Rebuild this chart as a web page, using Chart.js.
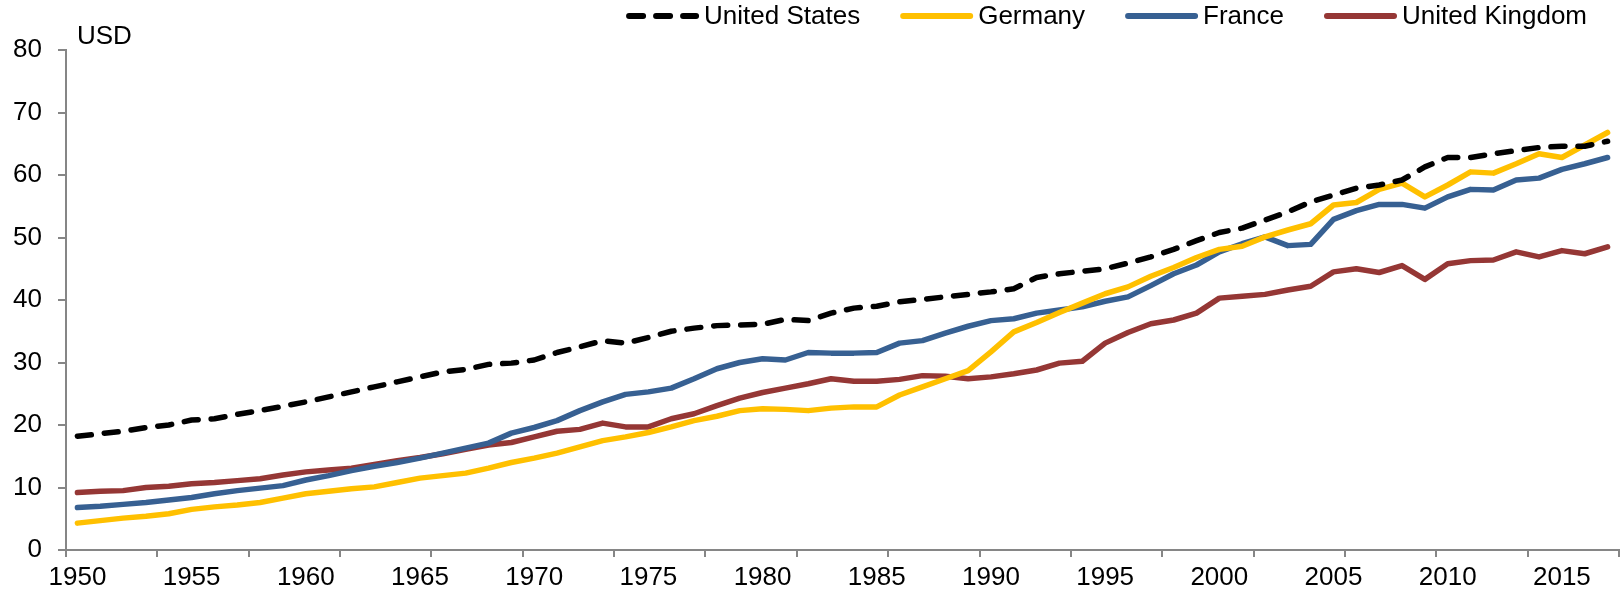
<!DOCTYPE html>
<html>
<head>
<meta charset="utf-8">
<title>Productivity</title>
<script src="https://cdn.jsdelivr.net/npm/chart.js@4.4.1/dist/chart.umd.min.js"></script>
<style>
  html, body { margin: 0; padding: 0; background: #fff; }
  #wrap { width: 1623px; height: 598px; position: relative; }
</style>
</head>
<body>
<div id="wrap"><canvas id="chart"></canvas></div>
<script>
// ------------------------------
// Data
// ------------------------------

const years = [
"1950","1951","1952","1953","1954","1955","1956","1957","1958","1959",
"1960","1961","1962","1963","1964","1965","1966","1967","1968","1969",
"1970","1971","1972","1973","1974","1975","1976","1977","1978","1979",
"1980","1981","1982","1983","1984","1985","1986","1987","1988","1989",
"1990","1991","1992","1993","1994","1995","1996","1997","1998","1999",
"2000","2001","2002","2003","2004","2005","2006","2007","2008","2009",
"2010","2011","2012","2013","2014","2015","2016","2017"
];

const unitedStates = [
18.2,18.6,19.0,19.6,20.0,20.8,21.0,21.7,22.3,23.0,
23.7,24.5,25.3,26.1,26.9,27.7,28.5,28.9,29.7,29.9,
30.4,31.6,32.5,33.5,33.1,34.0,35.0,35.5,35.9,36.0,
36.1,36.9,36.7,37.9,38.7,39.0,39.7,40.1,40.5,40.9,
41.3,41.8,43.6,44.2,44.6,45.0,45.9,46.9,48.1,49.5,
50.8,51.5,52.8,54.1,55.7,56.8,57.9,58.4,59.2,61.3,
62.8,62.8,63.4,63.9,64.4,64.6,64.6,65.4
];

const germany = [
4.3,4.7,5.1,5.4,5.8,6.5,6.9,7.2,7.6,8.3,
9.0,9.4,9.8,10.1,10.8,11.5,11.9,12.3,13.1,14.0,
14.7,15.5,16.5,17.5,18.1,18.8,19.7,20.7,21.4,22.3,
22.6,22.5,22.3,22.7,22.9,22.9,24.8,26.1,27.4,28.7,
31.7,34.9,36.4,38.0,39.5,41.0,42.1,43.8,45.2,46.8,
48.1,48.6,50.1,51.2,52.2,55.2,55.6,57.7,58.7,56.5,
58.4,60.5,60.3,61.8,63.4,62.8,64.8,66.8
];

const france = [
6.8,7.0,7.3,7.6,8.0,8.4,9.0,9.5,9.9,10.3,
11.2,11.9,12.7,13.4,14.0,14.7,15.5,16.3,17.1,18.7,
19.6,20.7,22.3,23.7,24.9,25.3,25.9,27.4,29.0,30.0,
30.6,30.4,31.6,31.5,31.5,31.6,33.1,33.5,34.7,35.8,
36.7,37.0,37.9,38.4,38.9,39.8,40.5,42.3,44.2,45.6,
47.7,49.0,50.1,48.7,48.9,52.9,54.3,55.3,55.3,54.7,
56.5,57.7,57.6,59.2,59.5,60.9,61.8,62.8
];

const unitedKingdom = [
9.2,9.4,9.5,10.0,10.2,10.6,10.8,11.1,11.4,12.0,
12.5,12.8,13.1,13.7,14.3,14.8,15.4,16.1,16.8,17.2,
18.1,19.0,19.3,20.3,19.7,19.7,21.0,21.8,23.1,24.3,
25.2,25.9,26.6,27.4,27.0,27.0,27.3,27.9,27.8,27.4,
27.7,28.2,28.8,29.9,30.2,33.1,34.8,36.2,36.8,37.9,
40.3,40.6,40.9,41.6,42.2,44.5,45.0,44.4,45.5,43.3,
45.8,46.3,46.4,47.7,46.9,47.9,47.4,48.5
];

const yTicks = [0, 10, 20, 30, 40, 50, 60, 70, 80];

// ------------------------------
// Styles
// ------------------------------

const FONT = "'Liberation Sans', Arial, sans-serif";
const FONT_SIZE = 26;
const AXIS_GREY = "#868686";

const series = [
  { label: "United States", data: unitedStates, color: "#000000", dash: [14, 13] },
  { label: "Germany", data: germany, color: "#FFC000", dash: [] },
  { label: "France", data: france, color: "#376092", dash: [] },
  { label: "United Kingdom", data: unitedKingdom, color: "#953735", dash: [] }
];

// legend + unit label drawn on top of the chart
const extrasPlugin = {
  id: "extras",
  afterDraw(chart) {
    const ctx = chart.ctx;
    const area = chart.chartArea;
    ctx.save();
    ctx.font = FONT_SIZE + "px " + FONT;
    ctx.fillStyle = "#000";
    ctx.textBaseline = "middle";

    // unit
    ctx.textAlign = "left";
    ctx.fillText("USD", area.left + 11, 37);

    // legend, right aligned
    const lineLen = 73, gapText = 5, gapItem = 40, y = 16;
    const items = series.map(s => ({ s: s, w: ctx.measureText(s.label).width }));
    let total = 0;
    items.forEach((it, i) => {
      total += lineLen + gapText + it.w + (i > 0 ? gapItem : 0);
    });
    let x = 1587 - total;
    items.forEach(it => {
      ctx.beginPath();
      ctx.strokeStyle = it.s.color;
      ctx.lineWidth = 6;
      ctx.lineCap = "round";
      ctx.setLineDash(it.s.dash);
      ctx.moveTo(x + 3, y);
      ctx.lineTo(x + lineLen - 3, y);
      ctx.stroke();
      ctx.setLineDash([]);
      ctx.fillText(it.s.label, x + lineLen + gapText, y + 1);
      x += lineLen + gapText + it.w + gapItem;
    });
    ctx.restore();
  }
};

// ------------------------------
// Line Chart
// ------------------------------

const lineChart = new Chart(

document.getElementById("chart"),

{

type: "line",

data: {

labels: years,

datasets: series.map(s => ({
  label: s.label,
  data: s.data,
  borderColor: s.color,
  backgroundColor: s.color,
  borderWidth: 5.5,
  borderDash: s.dash,
  borderCapStyle: "round",
  borderJoinStyle: "round",
  pointRadius: 0,
  tension: 0,
  fill: false
}))

},

options: {

responsive: true,
maintainAspectRatio: false,
animation: false,

layout: {
  padding: { top: 50, right: 4, bottom: 0, left: 0 }
},

plugins: {
  legend: { display: false },
  tooltip: { enabled: false }
},

scales: {

  x: {
    type: "category",
    offset: true,
    afterFit: scale => { scale.height = 48; },
    grid: {
      offset: true,
      drawOnChartArea: false,
      drawTicks: true,
      tickLength: 7,
      lineWidth: 2,
      color: c => (c.type === "scale" || c.index % 4 === 0) ? AXIS_GREY : "rgba(0,0,0,0)"
    },
    border: { display: true, color: AXIS_GREY, width: 2 },
    ticks: {
      autoSkip: false,
      maxRotation: 0,
      minRotation: 0,
      padding: 5,
      color: "#000",
      font: { family: FONT, size: FONT_SIZE },
      callback: (value, index) => index % 5 === 0 ? years[index] : ""
    }
  },

  y: {
    min: yTicks[0],
    max: yTicks[yTicks.length - 1],
    afterFit: scale => { scale.width = 66; },
    afterBuildTicks: scale => { scale.ticks = yTicks.map(v => ({ value: v })); },
    grid: {
      drawOnChartArea: false,
      drawTicks: true,
      tickLength: 8,
      lineWidth: 2,
      color: AXIS_GREY
    },
    border: { display: true, color: AXIS_GREY, width: 2 },
    ticks: {
      padding: 16,
      color: "#000",
      font: { family: FONT, size: FONT_SIZE }
    }
  }

}

},

plugins: [extrasPlugin]

});
</script>
</body>
</html>
